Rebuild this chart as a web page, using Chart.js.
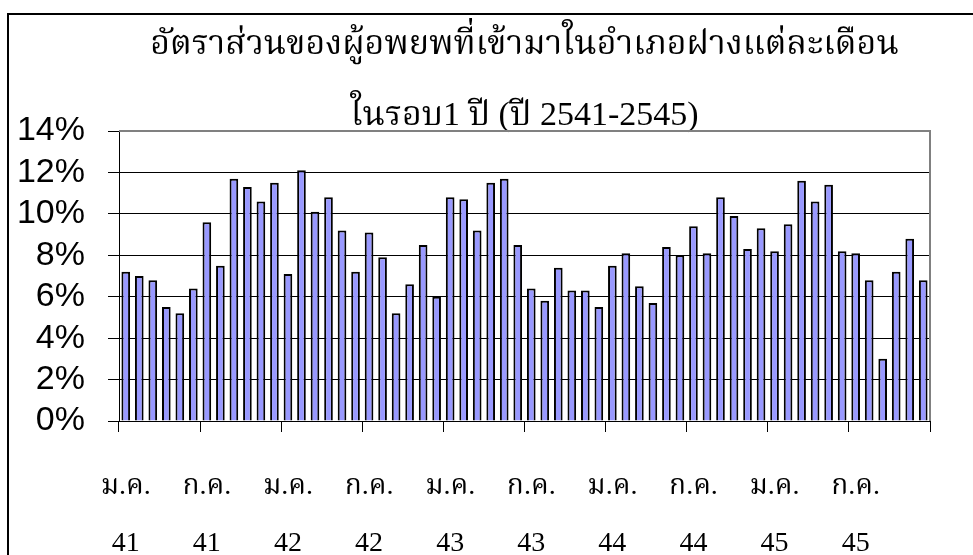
<!DOCTYPE html>
<html>
<head>
<meta charset="utf-8">
<script src="https://cdn.jsdelivr.net/npm/chart.js@4/dist/chart.umd.min.js"></script>
<style>
  html, body { margin: 0; padding: 0; background: #fff; overflow: hidden; }
  #wrap { position: relative; width: 973px; height: 555px; }
  #frame { position: absolute; left: 7px; top: 13px; width: 1000px; height: 600px;
           border: 2px solid #000; pointer-events: none; }
</style>
</head>
<body>
<div id="wrap">
  <canvas id="chartCanvas" width="973" height="555"></canvas>
  <div id="frame"></div>
</div>
<script>
const months = ["ม.ค.", "ก.พ.", "มี.ค.", "เม.ย.", "พ.ค.", "มิ.ย.", "ก.ค.", "ส.ค.", "ก.ย.", "ต.ค.", "พ.ย.", "ธ.ค."];
const years = ["41", "42", "43", "44", "45"];
const values = [
    7.2, 7.0, 6.8, 5.5, 5.2, 6.4, 9.6, 7.5, 11.7, 11.3, 10.6, 11.5,
    7.1, 12.1, 10.1, 10.8, 9.2, 7.2, 9.1, 7.9, 5.2, 6.6, 8.5, 6.0,
    10.8, 10.7, 9.2, 11.5, 11.7, 8.5, 6.4, 5.8, 7.4, 6.3, 6.3, 5.5,
    7.5, 8.1, 6.5, 5.7, 8.4, 8.0, 9.4, 8.1, 10.8, 9.9, 8.3, 9.3,
    8.2, 9.5, 11.6, 10.6, 11.4, 8.2, 8.1, 6.8, 3.0, 7.2, 8.8, 6.8
];
const yTicks = [0, 2, 4, 6, 8, 10, 12, 14];
const titleLines = ["อัตราส่วนของผู้อพยพที่เข้ามาในอำเภอฝางแต่ละเดือน", "ในรอบ1 ปี (ปี 2541-2545)"];

const labels = [];
for (const y of years) {
    for (const m of months) labels.push([m, y]);
}

const thaiFont = '"Liberation Serif", "Noto Serif Thai", "Noto Sans Thai", serif';

// gray border on the top and right of the plot area
const plotBorder = {
    id: "plotBorder",
    afterDraw(chart) {
        const a = chart.chartArea;
        const c = chart.ctx;
        c.save();
        c.strokeStyle = "#808080";
        c.lineWidth = 2;
        c.beginPath();
        c.moveTo(a.left, a.top);
        c.lineTo(a.right, a.top);
        c.lineTo(a.right, a.bottom);
        c.stroke();
        c.restore();
    }
};

const ctx = document.getElementById("chartCanvas").getContext("2d");
new Chart(ctx, {
    type: "bar",
    data: {
        labels: labels,
        datasets: [{
            data: values,
            backgroundColor: "#9999FF",
            borderColor: "#000",
            borderWidth: 2,
            barPercentage: 0.64,
            categoryPercentage: 1
        }]
    },
    options: {
        responsive: false,
        animation: false,
        layout: { padding: { left: 8, right: 43, top: 0, bottom: 0 } },
        plugins: {
            legend: { display: false },
            tooltip: { enabled: false },
            title: {
                display: true,
                fullSize: false,
                text: titleLines[0],
                color: "#000",
                font: { family: thaiFont, size: 34, weight: "normal", lineHeight: "40px" },
                padding: { top: 25, bottom: 31 }
            },
            subtitle: {
                display: true,
                fullSize: false,
                text: titleLines[1],
                color: "#000",
                font: { family: thaiFont, size: 34, weight: "normal", lineHeight: "40px" },
                padding: { top: 0, bottom: -5 }
            }
        },
        scales: {
            x: {
                afterFit(scale) { scale.height = 134; },
                grid: {
                    offset: true,
                    drawOnChartArea: false,
                    tickLength: 11,
                    color: c => (c.index === undefined || c.index % 6 === 0) ? "#000" : "rgba(0,0,0,0)"
                },
                border: { color: "#000", width: 1 },
                ticks: {
                    autoSkip: false,
                    maxRotation: 0,
                    minRotation: 0,
                    padding: 26,
                    color: "#000",
                    font: { family: thaiFont, size: 28, lineHeight: "57px" },
                    callback: function (v, i) { return i % 6 === 0 ? this.getLabelForValue(v) : ""; }
                }
            },
            y: {
                min: 0,
                max: 14,
                afterFit(scale) { scale.width = 111; },
                afterBuildTicks(scale) { scale.ticks = yTicks.map(v => ({ value: v })); },
                grid: {
                    color: c => c.tick && c.tick.value === 14 ? "#808080" : "#000",
                    tickColor: "#000",
                    tickLength: 11,
                    lineWidth: 1
                },
                border: { color: "#000", width: 1 },
                ticks: {
                    autoSkip: false,
                    padding: 23,
                    color: "#000",
                    font: { family: '"Liberation Sans", Arial, sans-serif', size: 34 },
                    callback: v => v + "%"
                }
            }
        }
    },
    plugins: [plotBorder]
});
</script>
</body>
</html>
